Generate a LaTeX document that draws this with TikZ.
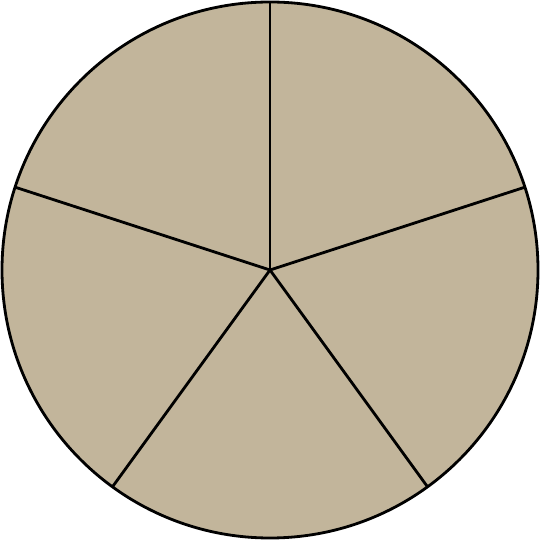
\documentclass[tikz,border=0pt]{standalone}
\usepackage{tikz}
\usepackage{xcolor}
\definecolor{pietan}{HTML}{C2B59B}
\tikzset{
    pie-disc/.style = {draw=black, fill=pietan, line width=0.8pt},
    pie-cut/.style = {draw=black, line width=0.8pt},
}

\begin{document}
\begin{tikzpicture}
\useasboundingbox (0,0) rectangle (5.4,5.4);
\coordinate (centre) at (2.7,2.7);
\draw[pie-disc] (centre) circle (2.68);
\foreach \ang in {90,18,-54,-126,162}
    \draw[pie-cut] (centre) -- ++(\ang:2.68);
\end{tikzpicture}
\end{document}
